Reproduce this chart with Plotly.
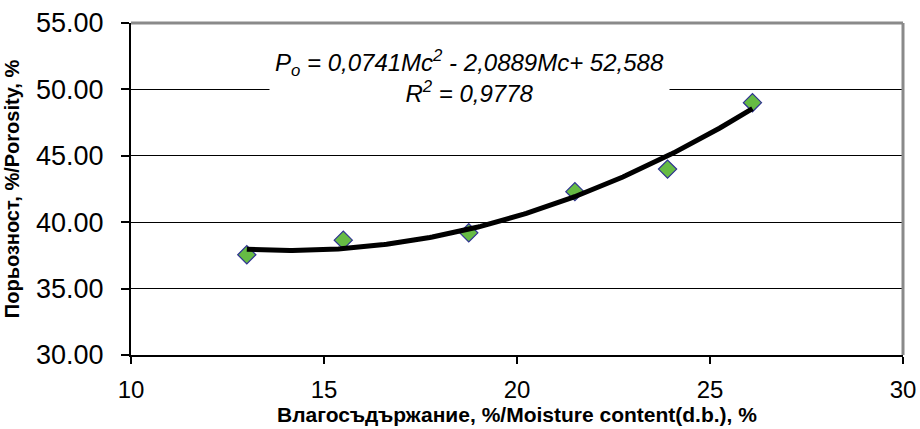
import numpy as np
import plotly.graph_objects as go

# Data
moisture = [13.0, 15.5, 18.75, 21.5, 23.9, 26.1]
porosity = [37.55, 38.65, 39.2, 42.3, 44.0, 49.0]
# Trendline coefficients shown on the chart (a*x^2 + b*x + c)
trend_coef = [0.0741, -2.0889, 52.588]
y_ticks = [30, 35, 40, 45, 50, 55]
x_ticks = [10, 15, 20, 25, 30]

xs = np.linspace(min(moisture), max(moisture), 200)
ys = np.polyval(trend_coef, xs)

FONT = "Liberation Sans, Arial, sans-serif"

fig = go.Figure()
fig.add_trace(go.Scatter(
    x=moisture, y=porosity, mode="markers",
    marker=dict(symbol="diamond", size=14, color="#66BB44",
                line=dict(color="#2E3192", width=1.2)),
    showlegend=False, hoverinfo="x+y"))
fig.add_trace(go.Scatter(
    x=xs, y=ys, mode="lines",
    line=dict(color="black", width=5),
    showlegend=False, hoverinfo="skip"))

fig.add_annotation(
    x=18.78, y=51.0, xref="x", yref="y",
    text="<i>P<sub>o</sub> = 0,0741Mc<sup>2</sup> - 2,0889Mc+ 52,588</i><br><i>R<sup>2</sup> = 0,9778</i>",
    showarrow=False, bgcolor="white", borderpad=5,
    font=dict(family=FONT, size=24, color="black"), align="center")

# gray frame on top and right
fig.add_shape(type="line", xref="paper", yref="paper", x0=0, x1=1, y0=1, y1=1,
              line=dict(color="#8a8a8a", width=3))
fig.add_shape(type="line", xref="paper", yref="paper", x0=1, x1=1, y0=0, y1=1,
              line=dict(color="#8a8a8a", width=3))

fig.update_layout(
    width=920, height=429,
    margin=dict(l=131, r=17, t=23, b=74),
    paper_bgcolor="white", plot_bgcolor="white",
    font=dict(family=FONT, color="black"),
    xaxis=dict(range=[10, 30], tickvals=x_ticks, ticktext=[str(v) for v in x_ticks],
               showgrid=False, zeroline=False, showline=True, linecolor="black",
               linewidth=2, ticks="outside", ticklen=7, tickcolor="black", tickwidth=1.5,
               tickfont=dict(size=24, family=FONT), automargin=False,
               ticklabelstandoff=5,
               title=dict(text="<b>Влагосъдържание, %/Moisture content(d.b.), %</b>",
                          font=dict(size=21, family=FONT), standoff=6)),
    yaxis=dict(range=[30, 55], tickvals=y_ticks, ticktext=[f"{v:.2f}" for v in y_ticks],
               showgrid=True, gridcolor="black", gridwidth=1, zeroline=False,
               showline=True, linecolor="black", linewidth=2,
               ticks="outside", ticklen=8, tickcolor="black", tickwidth=1.5,
               tickfont=dict(size=27, family=FONT), automargin=False,
               ticklabelstandoff=12,
               title=dict(text="<b>Порьозност, %/Porosity, %</b>",
                          font=dict(size=20, family=FONT), standoff=11)),
)

fig.write_html("out.html")
